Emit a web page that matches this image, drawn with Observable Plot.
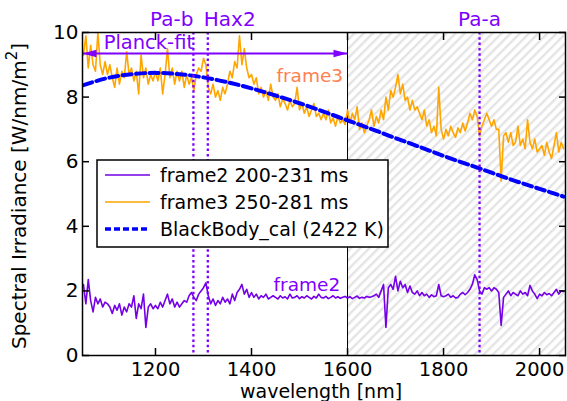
<!DOCTYPE html>
<html><head><meta charset="utf-8">
<script src="https://cdn.jsdelivr.net/npm/d3@7"></script>
<script src="https://cdn.jsdelivr.net/npm/@observablehq/plot@0.6"></script>
<style>body{margin:0;background:#fff} #chart{width:567px;height:401px}</style>
</head><body><div id="chart"></div>
<script>
// ---------- data ----------
const wavelength = [
1050,1055,1060,1065,1070,1075,1080,1085,1090,1095,
1100,1105,1110,1115,1120,1125,1130,1135,1140,1145,
1150,1155,1160,1165,1170,1175,1180,1185,1190,1195,
1200,1205,1210,1215,1220,1225,1230,1235,1240,1245,
1250,1255,1260,1265,1270,1275,1280,1285,1290,1295,
1300,1305,1310,1315,1320,1325,1330,1335,1340,1345,
1350,1355,1360,1365,1370,1375,1380,1385,1390,1395,
1400,1405,1410,1415,1420,1425,1430,1435,1440,1445,
1450,1455,1460,1465,1470,1475,1480,1485,1490,1495,
1500,1505,1510,1515,1520,1525,1530,1535,1540,1545,
1550,1555,1560,1565,1570,1575,1580,1585,1590,1595,
1600,1605,1610,1615,1620,1625,1630,1635,1640,1645,
1650,1655,1660,1665,1670,1675,1680,1685,1690,1695,
1700,1705,1710,1715,1720,1725,1730,1735,1740,1745,
1750,1755,1760,1765,1770,1775,1780,1785,1790,1795,
1800,1805,1810,1815,1820,1825,1830,1835,1840,1845,
1850,1855,1860,1865,1870,1875,1880,1885,1890,1895,
1900,1905,1910,1915,1920,1925,1930,1935,1940,1945,
1950,1955,1960,1965,1970,1975,1980,1985,1990,1995,
2000,2005,2010,2015,2020,2025,2030,2035,2040,2045,2050];

const frame3Values = [
9.3,9.9,8.9,9.6,9.0,8.8,10.0,9.0,8.7,9.1,
8.7,9.0,8.6,8.3,8.9,8.4,8.8,8.6,9.4,8.7,
8.9,8.5,8.8,8.1,9.3,8.6,8.9,8.4,8.7,8.5,
8.8,8.5,8.9,8.1,8.7,9.5,8.6,8.9,8.4,8.8,
8.5,8.8,8.3,8.7,8.4,8.6,8.2,8.7,8.9,8.8,
9.2,9.0,8.3,8.1,8.4,8.0,8.2,7.9,8.3,8.1,
8.4,8.8,8.6,9.1,8.9,9.9,9.0,9.5,8.9,8.6,
8.7,8.4,8.6,8.1,8.3,8.0,8.2,7.9,8.4,8.0,
7.9,8.1,7.7,7.95,7.8,7.6,7.9,7.7,7.8,8.3,
7.6,7.8,7.5,7.7,7.4,7.6,7.8,7.4,7.5,7.3,
7.5,7.3,7.6,7.2,7.35,7.1,7.4,7.2,7.3,7.15,
7.6,7.2,7.5,7.3,7.7,7.0,7.2,6.9,7.1,7.3,
7.6,7.1,7.4,7.2,7.6,7.3,8.0,7.6,8.2,8.0,
8.3,8.7,8.1,8.4,7.9,8.0,7.6,7.9,7.6,7.7,
7.5,7.3,7.6,7.1,7.3,6.9,7.1,6.8,8.3,7.0,
6.7,7.0,6.8,7.1,6.9,6.75,7.05,6.9,7.2,6.95,
7.2,7.5,7.3,7.6,7.4,6.8,7.1,7.3,7.5,7.3,
7.1,7.3,7.0,7.0,5.4,6.8,6.9,6.6,6.9,6.5,
6.6,7.1,6.5,6.7,6.4,7.3,6.6,6.4,6.7,6.3,
6.4,6.5,6.2,6.6,6.3,6.1,6.5,6.9,6.3,6.6,6.4];

const frame2Values = [
2.2,1.6,2.35,1.7,1.35,1.8,1.6,1.75,1.5,1.65,
1.6,1.5,1.3,1.55,1.4,1.6,1.25,1.5,1.35,1.6,
1.5,1.85,1.15,1.6,1.45,1.9,0.87,1.5,1.6,1.45,
1.55,1.45,1.65,1.5,1.7,1.9,1.6,1.75,1.5,1.65,
1.5,1.6,1.7,1.65,1.85,1.95,1.8,1.7,1.9,2.0,
2.1,2.25,1.85,1.6,1.75,1.55,1.7,1.6,1.8,1.65,
1.75,1.6,1.9,1.7,1.95,2.05,2.2,1.9,2.05,1.8,
1.95,1.8,1.9,1.75,1.85,1.8,1.9,1.75,1.8,1.85,
1.8,1.75,1.85,1.78,1.82,1.75,1.9,1.78,1.8,1.85,
1.76,1.82,1.78,1.85,1.8,1.75,1.83,1.78,1.9,1.8,
1.78,1.83,1.76,1.8,1.85,1.78,1.82,1.77,1.8,1.83,
1.78,1.82,1.76,1.8,1.84,1.77,1.8,1.78,1.83,1.8,
1.82,1.85,1.9,1.8,2.0,2.2,0.87,2.1,2.2,2.05,
2.45,2.0,2.3,2.1,2.2,1.95,2.15,1.95,1.9,2.0,
1.85,1.95,1.85,1.9,1.8,1.88,1.82,1.85,2.2,1.85,
1.82,1.85,1.9,1.8,1.85,1.78,1.8,1.9,1.95,1.88,
1.95,2.05,2.2,2.5,2.35,2.0,1.9,2.1,2.05,2.1,
2.0,2.1,2.05,1.95,0.93,1.8,1.9,2.0,1.85,1.95,
1.9,1.85,2.0,1.9,1.95,1.85,2.17,2.0,1.9,1.76,
1.9,1.85,1.95,1.88,1.92,1.85,1.95,2.05,1.9,2.0,1.98];

const blackbodyWavelength = [1050,1100,1150,1200,1250,1300,1350,1400,1450,1500,1550,1600,1650,1700,1750,1800,1850,1900,1950,2000,2050];
const blackbodyValues = [8.37,8.59,8.71,8.75,8.71,8.61,8.46,8.27,8.05,7.81,7.55,7.28,7.01,6.73,6.46,6.18,5.92,5.66,5.40,5.16,4.92];

const lineNames = ["Pa-b", "Hax2", "Pa-a"];
const lineWavelengths = [1279, 1309, 1875];

const xTicks = [1200, 1400, 1600, 1800, 2000];
const yTicks = [0, 2, 4, 6, 8, 10];

const fitRange = [1048, 1600];   // Planck-fit interval
const fitLevel = 9.35;
const shadedRange = [1600, 2054];
const legendLabels = ["frame2 200-231 ms", "frame3 250-281 ms", "BlackBody_cal (2422 K)"];

// ---------- build ----------
const purple = "#7f00ff";
const orange = "#ffa500";
const blue = "#0000ff";

const f3 = wavelength.map((w, i) => ({w, v: frame3Values[i]}));
const f2 = wavelength.map((w, i) => ({w, v: frame2Values[i]}));
const bb = blackbodyWavelength.map((w, i) => ({w, v: blackbodyValues[i]}));
const lines = lineNames.map((n, i) => ({name: n, w: lineWavelengths[i]}));

const headSymbol = {draw(ctx) { ctx.moveTo(0, 0); ctx.lineTo(-14, -3.8); ctx.lineTo(-14, 3.8); ctx.closePath(); }};

const plot = Plot.plot({
  width: 567, height: 401,
  marginLeft: 82, marginRight: 2, marginTop: 32, marginBottom: 46,
  style: {fontFamily: "DejaVu Sans", fontSize: "19px", color: "black", background: "white", overflow: "visible"},
  x: {domain: [1048, 2054]},
  y: {domain: [0, 10]},
  marks: [
    Plot.rect([{x1: shadedRange[0], x2: shadedRange[1], y1: 0, y2: 10}], {x1: "x1", x2: "x2", y1: "y1", y2: "y2", fill: "url(#hatch)"}),
    Plot.ruleX([shadedRange[0]], {stroke: "black", strokeWidth: 1}),
    Plot.line(f3, {x: "w", y: "v", stroke: orange, strokeWidth: 1.6, clip: true}),
    Plot.line(f2, {x: "w", y: "v", stroke: "#7300e6", strokeWidth: 1.6, clip: true}),
    Plot.line(bb, {x: "w", y: "v", stroke: blue, strokeWidth: 4, strokeDasharray: "9,4.5", curve: "natural", clip: true}),
    Plot.ruleX(lines, {x: "w", stroke: purple, strokeWidth: 2.3, strokeDasharray: "2.5,2.8"}),
    Plot.text([lines[0]], {x: "w", text: "name", frameAnchor: "top", dy: -7, lineAnchor: "bottom", textAnchor: "end", fill: purple, fontSize: 20}),
    Plot.text([lines[1]], {x: "w", text: "name", frameAnchor: "top", dy: -7, lineAnchor: "bottom", textAnchor: "start", dx: -4, fill: purple, fontSize: 20}),
    Plot.text([lines[2]], {x: "w", text: "name", frameAnchor: "top", dy: -7, lineAnchor: "bottom", textAnchor: "middle", fill: purple, fontSize: 20}),
    Plot.ruleY([{x1: fitRange[0], x2: fitRange[1], y: fitLevel}], {x1: "x1", x2: "x2", y: "y", stroke: purple, strokeWidth: 2}),
    Plot.dot([{x: fitRange[1], y: fitLevel}], {x: "x", y: "y", symbol: headSymbol, fill: purple, stroke: null}),
    Plot.dot([{x: fitRange[0], y: fitLevel}], {x: "x", y: "y", symbol: headSymbol, fill: purple, stroke: null, rotate: 180}),
    Plot.text([{x: 1092, y: 9.5, t: "Planck-fit"}], {x: "x", y: "y", text: "t", textAnchor: "start", lineAnchor: "bottom", fill: purple, fontSize: 19.5}),
    Plot.text([{x: 1452, y: 8.48, t: "frame3"}], {x: "x", y: "y", text: "t", textAnchor: "start", lineAnchor: "bottom", fill: "#ff7f50", fontSize: 18.5}),
    Plot.text([{x: 1446, y: 2.01, t: "frame2"}], {x: "x", y: "y", text: "t", textAnchor: "start", lineAnchor: "bottom", fill: purple, fontSize: 18.5}),
    Plot.frame({stroke: "black", strokeWidth: 1.5}),
    Plot.axisX({ticks: xTicks, tickSize: -7, tickPadding: 14, tickFormat: d => String(d), label: null, strokeWidth: 1.5, fontSize: 19.5}),
    Plot.axisX({anchor: "top", ticks: xTicks, tickSize: -7, tickFormat: () => "", label: null, strokeWidth: 1.5}),
    Plot.axisY({ticks: yTicks, tickSize: -7, tickPadding: 11, tickFormat: d => String(d), label: null, strokeWidth: 1.5, fontSize: 20}),
    Plot.axisY({anchor: "right", ticks: yTicks, tickSize: -7, tickFormat: () => "", label: null, strokeWidth: 1.5})
  ]
});

const svg = d3.select(plot);
const defs = svg.insert("defs", ":first-child");
const pat = defs.append("pattern").attr("id", "hatch").attr("patternUnits", "userSpaceOnUse")
  .attr("width", 6.5).attr("height", 6.5).attr("patternTransform", "rotate(45)");
pat.append("rect").attr("width", 6.5).attr("height", 6.5).attr("fill", "white");
pat.append("line").attr("x1", 1.2).attr("y1", 0).attr("x2", 1.2).attr("y2", 6.5).attr("stroke", "#e4e4e4").attr("stroke-width", 2.4);

// y-axis title
const yl = svg.append("text").attr("transform", "translate(26,196) rotate(-90)")
  .attr("text-anchor", "middle").attr("font-family", "DejaVu Sans").attr("font-size", 20).attr("fill", "black");
yl.append("tspan").text("Spectral Irradiance [W/nm/m");
yl.append("tspan").attr("dy", -9).attr("font-size", 15).text("2");
yl.append("tspan").attr("dy", 9).text("]");

// x-axis title
svg.append("text").attr("x", 321).attr("y", 398).attr("text-anchor", "middle")
  .attr("font-family", "DejaVu Sans").attr("font-size", 19).attr("fill", "black").text("wavelength [nm]");

// legend
const lg = svg.append("g").attr("text-anchor", "start");
lg.append("rect").attr("x", 97).attr("y", 160).attr("width", 291).attr("height", 87)
  .attr("fill", "white").attr("stroke", "black").attr("stroke-width", 1.5);
const rowY = [175, 202, 229];
const sw = [{c: "#7300e6", w: 1.6, d: null}, {c: orange, w: 1.6, d: null}, {c: blue, w: 3.5, d: "6,3"}];
legendLabels.forEach((t, i) => {
  lg.append("line").attr("x1", 105).attr("x2", 150).attr("y1", rowY[i]).attr("y2", rowY[i])
    .attr("stroke", sw[i].c).attr("stroke-width", sw[i].w).attr("stroke-dasharray", sw[i].d);
  lg.append("text").attr("x", 160).attr("y", rowY[i]).attr("dy", "0.36em").attr("text-anchor", "start")
    .attr("font-family", "DejaVu Sans").attr("font-size", 19).attr("fill", "black").text(t);
});

document.getElementById("chart").appendChild(plot);
</script>
</body></html>
